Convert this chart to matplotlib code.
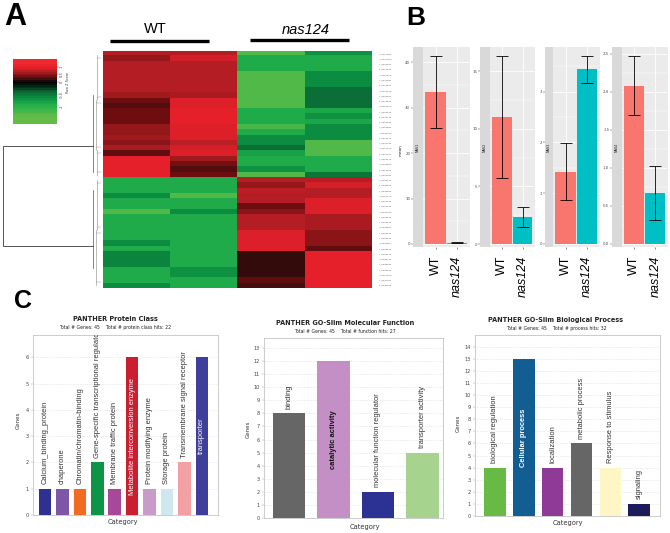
import numpy as np
import matplotlib
matplotlib.use("Agg")
import matplotlib.pyplot as plt
from matplotlib.colors import LinearSegmentedColormap, Normalize

# ---------------- data ----------------
# Panel A heatmap (row Z-scores); rows top cluster (24) then bottom cluster (21)
wt_rep1 = [0.7, 0.55, 0.7, 0.7, 0.7, 0.7, 0.7, 0.7, 0.6, 0.35, 0.25, 0.35, 0.35, 0.35, 0.55, 0.55,
           0.6, 0.5, 0.65, 0.3, 1.0, 1.0, 1.0, 1.0,
           -0.95, -0.95, -0.95, -0.65, -0.95, -0.95, -1.25, -0.95, -0.95, -0.95, -0.95, -0.95,
           -0.65, -0.95, -0.6, -0.6, -0.6, -0.95, -0.95, -0.95, -0.65]
wt_rep2 = [0.7, 0.9, 0.7, 0.7, 0.7, 0.7, 0.7, 0.7, 0.65, 0.95, 0.95, 1.0, 1.0, 1.0, 0.95, 0.95,
           0.95, 0.75, 0.9, 0.95, 0.6, 0.4, 0.25, 0.35,
           -0.95, -0.95, -0.95, -1.25, -0.95, -0.95, -0.65, -0.95, -0.95, -0.95, -0.95, -0.95,
           -0.95, -0.95, -0.95, -0.95, -0.95, -0.7, -0.7, -0.95, -0.95]
nas_rep1 = [-1.25, -0.95, -0.95, -0.95, -1.25, -1.25, -1.25, -1.25, -1.25, -1.25, -1.25, -0.95,
            -0.95, -0.95, -1.2, -0.95, -0.65, -0.65, -0.45, -0.85, -0.95, -0.95, -0.7, -1.25,
            0.7, 0.55, 0.75, 0.7, 0.7, 0.35, 0.5, 0.7, 0.7, 0.7, 0.95, 0.95, 0.95, 0.95,
            0.15, 0.15, 0.15, 0.15, 0.15, 0.3, 0.2]
nas_rep2 = [-0.7, -0.95, -0.95, -0.95, -0.65, -0.65, -0.65, -0.45, -0.45, -0.45, -0.45, -0.9,
            -0.7, -0.9, -0.65, -0.65, -0.65, -1.25, -1.25, -1.25, -0.95, -0.95, -0.95, -0.5,
            0.7, 0.9, 0.7, 0.7, 0.95, 0.95, 0.95, 0.65, 0.65, 0.65, 0.5, 0.5, 0.5, 0.3,
            1.0, 1.0, 1.0, 1.0, 1.0, 1.0, 1.0]
gene_ids = ["Y_5420190", "Y_5420390", "Y_5420450", "Y_5421380", "Y_5421570", "Y_5422040",
            "Y_5422260", "Y_5423020", "Y_5423660", "Y_5423910", "Y_5424170", "Y_5424820",
            "Y_5425030", "Y_5425340", "Y_5425880", "Y_5426110", "Y_5426570", "Y_5427020",
            "Y_5427440", "Y_5427960", "Y_5428210", "Y_5428630", "Y_5429050", "Y_5429480",
            "Y_5430120", "Y_5430560", "Y_5430890", "Y_5431270", "Y_5431640", "Y_5432010",
            "Y_5432450", "Y_5432870", "Y_5433190", "Y_5433620", "Y_5434080", "Y_5434410",
            "Y_5434850", "Y_5435220", "Y_5435670", "Y_5436030", "Y_5436490", "Y_5436810",
            "Y_5437260", "Y_5437700", "Y_5438150"]
key_ticks = [1, 0.5, 0, -0.5, -1]

# Panel B
nas_genes = ["NAS1", "NAS2", "NAS3", "NAS4"]
groups = ["WT", "nas124"]
wt_mean = [33.4, 11.0, 1.42, 2.08]
wt_se = [7.9, 5.3, 0.56, 0.39]
mut_mean = [0.3, 2.34, 3.44, 0.67]
mut_se = [0.08, 0.9, 0.27, 0.36]
b_ticks = [[0, 10, 20, 30, 40], [0, 5, 10, 15], [0, 1, 2, 3], [0, 0.5, 1.0, 1.5, 2.0, 2.5]]
b_ticklabels = [["0", "10", "20", "30", "40"], ["0", "5", "10", "15"], ["0", "1", "2", "3"],
                ["0.0", "0.5", "1.0", "1.5", "2.0", "2.5"]]
b_ylims = [(-0.66, 43.3), (-0.26, 17.1), (-0.06, 3.88), (-0.04, 2.59)]

# Panel C
pc_cats = ["Calcium_binding_protein", "chaperone", "Chromatin/chromatin-binding",
           "Gene-specific transcriptional regulator", "Membrane traffic protein",
           "Metabolite interconversion enzyme", "Protein modifying enzyme", "Storage protein",
           "Transmembrane signal receptor", "transporter"]
pc_vals = [1, 1, 1, 2, 1, 6, 1, 1, 2, 6]
pc_cols = ["#2E3192", "#7D56A6", "#F26B22", "#0C9447", "#A8489A", "#C91F30", "#C89BC8",
           "#CFE8EF", "#F3A0A2", "#3F3F9B"]
mf_cats = ["binding", "catalytic activity", "molecular function regulator", "transporter activity"]
mf_vals = [8, 12, 2, 5]
mf_cols = ["#666666", "#C38FC4", "#2C3194", "#A6D38E"]
bp_cats = ["biological regulation", "Cellular process", "localization", "metabolic process",
           "Response to stimulus", "signaling"]
bp_vals = [4, 13, 4, 6, 4, 1]
bp_cols = ["#67BB45", "#125E92", "#8E3A96", "#666666", "#FFF6C6", "#1D1B5C"]

# ---------------- figure ----------------
W, H = 670, 533
fig = plt.figure(figsize=(W / 100, H / 100), dpi=100)
plt.rcParams["font.family"] = ["DejaVu Sans"]
ARIAL = "Liberation Sans"


def add_ax(x0, y0, x1, y1, **kw):
    return fig.add_axes([x0 / W, 1 - y1 / H, (x1 - x0) / W, (y1 - y0) / H], **kw)


ov = add_ax(0, 0, W, H)
ov.set_xlim(0, W)
ov.set_ylim(H, 0)
ov.axis("off")
ov.set_zorder(5)
ov.patch.set_alpha(0)

# ---------- Panel A ----------
anchors = [(-1.35, "#62BC47"), (-1.0, "#22B14C"), (-0.65, "#0C8C40"), (-0.45, "#0B6E36"),
           (0.0, "#000000"), (0.2, "#45100F"), (0.35, "#6E0D10"), (0.55, "#931719"),
           (0.7, "#B51E24"), (1.0, "#E5202A"), (1.25, "#EE2A2E")]
vmin, vmax = -1.35, 1.25
cmap = LinearSegmentedColormap.from_list(
    "gkr", [((v - vmin) / (vmax - vmin), c) for v, c in anchors], N=256)
norm = Normalize(vmin, vmax)

mat = np.array([wt_rep1, wt_rep2, nas_rep1, nas_rep2]).T
hax = add_ax(103, 51, 372, 288)
hax.imshow(mat, cmap=cmap, norm=norm, aspect="auto", interpolation="nearest")
hax.set_xticks([])
hax.yaxis.tick_right()
hax.set_yticks(range(len(gene_ids)))
hax.set_yticklabels(gene_ids, fontsize=1.6, color="#555555")
hax.tick_params(axis="y", length=0, pad=5)
for s in hax.spines.values():
    s.set_visible(False)

# colour key (non-linear key as in heatmap.2)
kax = add_ax(13, 59, 57, 124)
pix = np.linspace(59, 124, 40)
kvals = np.interp(pix, [59, 67, 74, 82, 94, 106, 124], [1.5, 1.0, 0.5, 0.0, -0.5, -1.0, -1.6])
kax.imshow(kvals[:, None], cmap=cmap, norm=norm, aspect="auto", interpolation="nearest")
kax.axis("off")
for t, yp in zip(key_ticks, [67, 74, 82, 94, 106]):
    ov.plot([57, 59], [yp, yp], color="#555555", lw=0.3)
    ov.text(61.5, yp, str(t), rotation=90, fontsize=2.6, ha="center", va="center", color="#444444")
ov.text(68, 82, "Row Z-Score", rotation=90, fontsize=2.4, ha="center", va="center", color="#444444")

# dendrogram
dc = "#555555"
ov.plot([93, 3, 3, 93], [146, 146, 246, 246], color=dc, lw=0.7)
ov.plot([93, 93], [95, 172], color=dc, lw=0.5)
ov.plot([93, 93], [190, 268], color=dc, lw=0.5)
for y0, y1, x in [(55, 100, 97), (100, 150, 96), (150, 175, 97), (180, 230, 97), (230, 285, 96)]:
    ov.plot([x, x], [y0, y1], color="#888888", lw=0.4)
    ov.plot([x, 101], [y0 + 3, y0 + 3], color="#888888", lw=0.3)
    ov.plot([x, 101], [y1 - 3, y1 - 3], color="#888888", lw=0.3)

# group labels
ov.text(155, 33, "WT", fontsize=10.5, family=ARIAL, ha="center", va="baseline")
ov.text(306, 34, "nas124", fontsize=10.5, family=ARIAL, style="italic", ha="center", va="baseline")
ov.plot([110, 209], [41, 41], color="black", lw=2.4, solid_capstyle="butt")
ov.plot([250, 349], [40, 40], color="black", lw=2.4, solid_capstyle="butt")

# panel letters
ov.text(4, 25, "A", fontsize=22, weight="bold", family=ARIAL, va="baseline")
ov.text(406, 25, "B", fontsize=19, weight="bold", family=ARIAL, va="baseline")
ov.text(14, 308, "C", fontsize=18, weight="bold", family=ARIAL, va="baseline")

# ---------- Panel B ----------
strips = [(413, 423, 470), (480, 490, 535), (545, 553, 600), (612, 622, 668)]
c_wt, c_mut = "#F8766D", "#00BFC4"
for i, (sx0, px0, px1) in enumerate(strips):
    ylo, yhi = b_ylims[i]
    ax = add_ax(px0, 47, px1, 247)
    ax.set_facecolor("#EBEBEB")
    ax.set_xlim(0.42, 2.6)
    ax.set_ylim(ylo, yhi)
    ticks = b_ticks[i]
    minors = [(a + b) / 2 for a, b in zip(ticks[:-1], ticks[1:])]
    if ticks[-1] + (ticks[1] - ticks[0]) / 2 < yhi:
        minors.append(ticks[-1] + (ticks[1] - ticks[0]) / 2)
    for t in ticks:
        ax.axhline(t, color="white", lw=0.6, zorder=0)
    for t in minors:
        ax.axhline(t, color="white", lw=0.3, zorder=0)
    for xx in [1, 2]:
        ax.axvline(xx, color="white", lw=0.6, zorder=0)
    ax.bar([1, 2], [wt_mean[i], mut_mean[i]], width=0.95, color=[c_wt, c_mut], zorder=2)
    ax.errorbar([1, 2], [wt_mean[i], mut_mean[i]], yerr=[wt_se[i], mut_se[i]], fmt="none",
                ecolor="black", elinewidth=0.6, capsize=4.5, capthick=0.6, zorder=3)
    for s in ax.spines.values():
        s.set_visible(False)
    ax.set_yticks([])
    ax.set_xticks([1, 2])
    ax.set_xticklabels(groups, rotation=90, fontsize=9, family=ARIAL, va="top")
    ax.get_xticklabels()[1].set_style("italic")
    ax.tick_params(axis="x", length=1.5, width=0.4, color="#333333", pad=5)
    # strip with axis
    sax = add_ax(sx0, 47, px0, 247)
    sax.set_facecolor("#D9D9D9")
    sax.set_ylim(ylo, yhi)
    sax.set_xticks([])
    sax.set_yticks(ticks)
    sax.set_yticklabels(b_ticklabels[i], fontsize=2.8, color="#4D4D4D")
    sax.tick_params(axis="y", length=1.2, width=0.3, color="#333333", pad=0.8)
    for s in sax.spines.values():
        s.set_visible(False)
    sax.text(0.5, 0.5, nas_genes[i], rotation=90, fontsize=2.4, ha="center", va="center",
             color="#1A1A1A", transform=sax.transAxes)
ov.text(401, 150, "mean", rotation=90, fontsize=3, ha="center", va="center", color="#222222")


# ---------- Panel C ----------
def panther(box, cats, vals, cols, ymax, ticks, title, subtitle, tpos, glab, clab,
            xlim, width, inside):
    x0, y0, x1, y1 = box
    ax = add_ax(x0, y0, x1, y1)
    xs = np.arange(len(cats))
    ax.bar(xs, vals, width=width, color=cols, zorder=2)
    ax.set_xlim(*xlim)
    ax.set_ylim(0, ymax)
    ax.set_yticks(ticks)
    ax.set_yticklabels([str(t) for t in ticks], fontsize=3.6, color="#444444")
    ax.tick_params(axis="y", length=1.5, width=0.3, color="#999999", pad=1.5)
    ax.set_xticks([])
    for t in ticks:
        ax.axhline(t, color="#D8D8D8", lw=0.4, ls=(0, (2, 2)), zorder=0)
    for s in ax.spines.values():
        s.set_color("#C4C4C4")
        s.set_linewidth(0.6)
    for i, (c, v) in enumerate(zip(cats, vals)):
        if c in inside:
            col, wt = inside[c]
            ax.text(i, v / 2, c, rotation=90, ha="center", va="center", fontsize=5.4,
                    family=ARIAL, color=col, weight=wt, zorder=3)
        else:
            ax.annotate(c, (i, v), xytext=(0, 3.5), textcoords="offset points", rotation=90,
                        ha="center", va="bottom", fontsize=5.4, family=ARIAL,
                        color="#333333", annotation_clip=False, clip_on=True, zorder=3)
    ov.text(tpos[0], tpos[1], title, fontsize=4.7, weight="bold", ha="center", va="center",
            color="#222222")
    ov.text(tpos[0], tpos[1] + 8.5, subtitle, fontsize=3.3, ha="center", va="center",
            color="#222222")
    ov.text(glab[0], glab[1], "Genes", rotation=90, fontsize=4, ha="center", va="center",
            color="#333333")
    ov.text(clab[0], clab[1], "Category", fontsize=4.8, ha="center", va="center", color="#333333")
    return ax


panther((33, 335, 218, 515), pc_cats, pc_vals, pc_cols, 6.85, list(range(0, 7)),
        "PANTHER Protein Class", "Total # Genes: 45    Total # protein class hits: 22",
        (115, 319), (18, 420), (123, 522), (-0.69, 9.93), 0.72,
        {"Metabolite interconversion enzyme": ("white", "normal"),
         "transporter": ("white", "normal")})
panther((264, 338, 443, 518), mf_cats, mf_vals, mf_cols, 13.77, list(range(0, 14)),
        "PANTHER GO-Slim Molecular Function", "Total # Genes: 45    Total # function hits: 27",
        (345, 323), (248, 429), (365, 527), (-0.56, 3.46), 0.73,
        {"catalytic activity": ("#111111", "bold")})
panther((475, 335, 660, 516), bp_cats, bp_vals, bp_cols, 14.97, list(range(0, 15)),
        "PANTHER GO-Slim Biological Process", "Total # Genes: 45    Total # process hits: 32",
        (556, 320), (458, 423), (568, 523), (-0.69, 5.72), 0.75,
        {"Cellular process": ("white", "bold")})

fig.savefig("out.png", dpi=100)
